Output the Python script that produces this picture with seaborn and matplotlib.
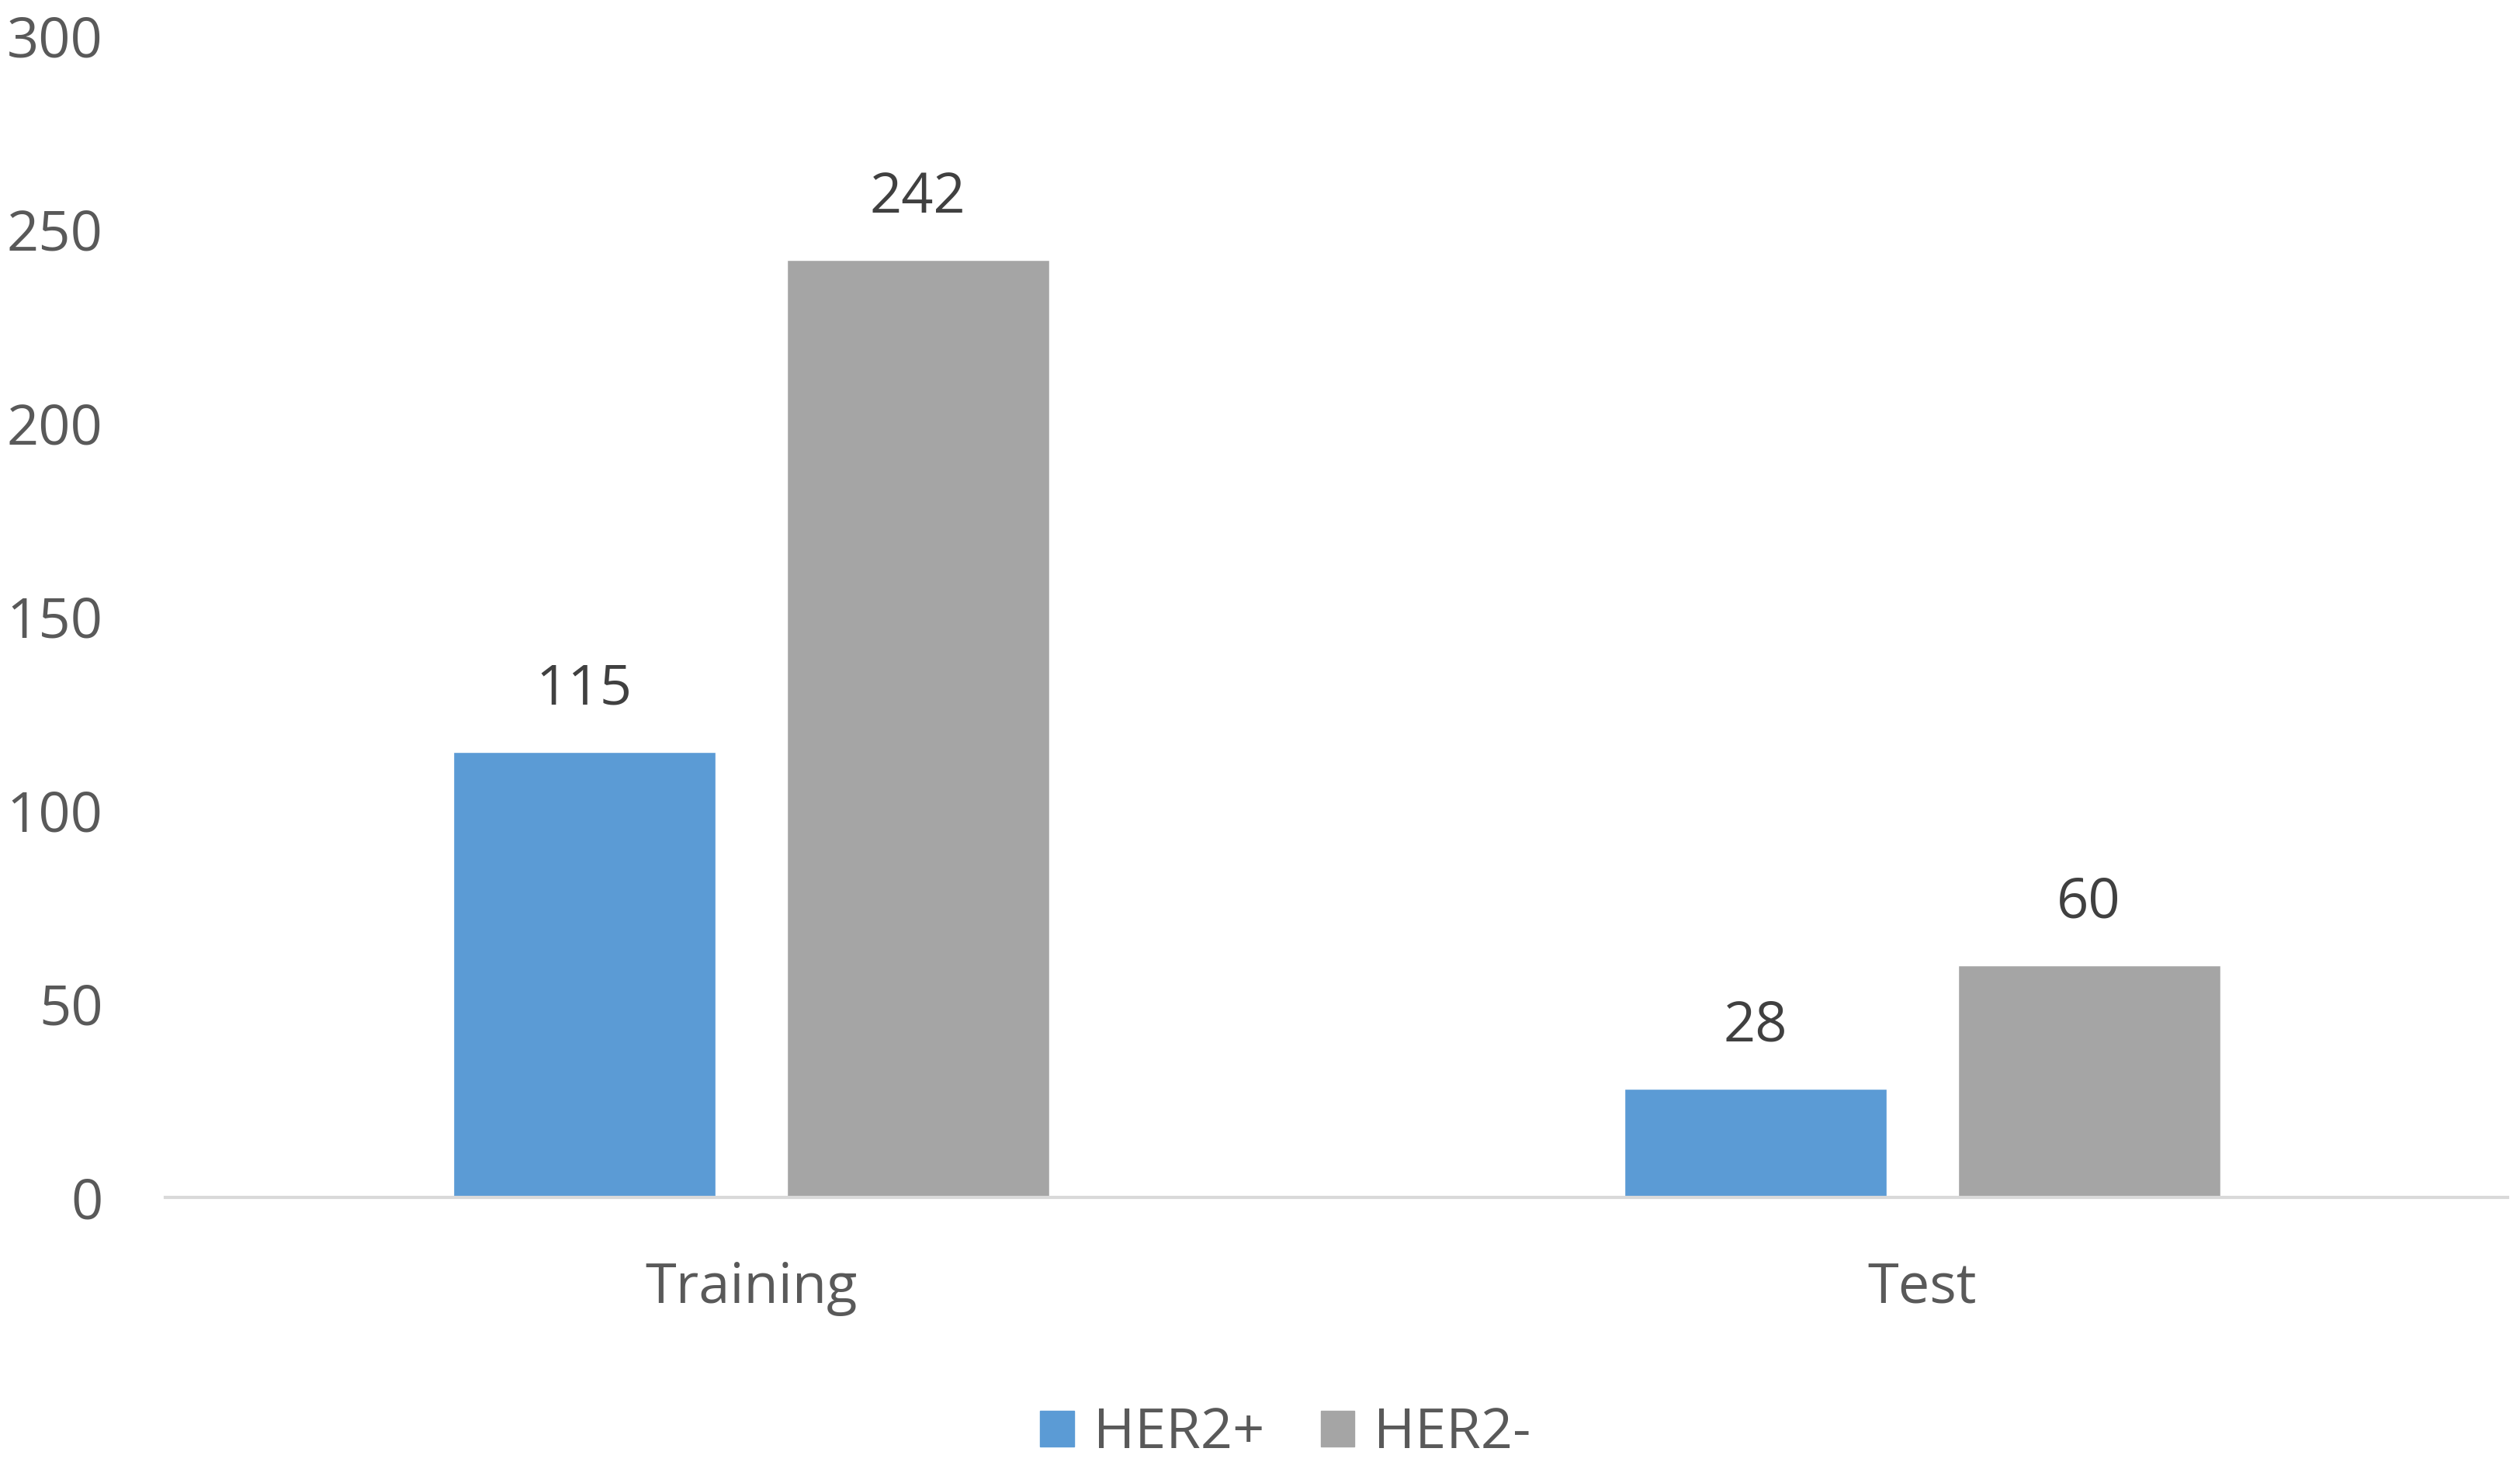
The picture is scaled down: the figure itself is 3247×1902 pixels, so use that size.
import pandas as pd
import matplotlib.pyplot as plt
import seaborn as sns

# data
groups = ['Training', 'Test']
series = ['HER2+', 'HER2-']
her2_pos = [115, 28]
her2_neg = [242, 60]
colors = ['#5B9BD5', '#A5A5A5']

df = pd.DataFrame({
    'Group': groups * 2,
    'Status': [series[0]] * 2 + [series[1]] * 2,
    'Count': her2_pos + her2_neg,
})

sns.set_style('white')
plt.rcParams['font.family'] = ['Open Sans', 'DejaVu Sans']

fig = plt.figure(figsize=(32.48, 19.02), dpi=100)
ax = fig.add_axes([0.0656, 0.1888, 0.9292, 0.787])

sns.barplot(data=df, x='Group', y='Count', hue='Status', order=groups,
            hue_order=series, palette=colors, width=0.57, gap=0.214,
            saturation=1, legend=False, ax=ax)

# value labels above bars
for cont in ax.containers:
    ax.bar_label(cont, padding=32, fontsize=52, color='#404040')

ax.set_xlim(-0.5, 1.5)
ax.set_ylim(0, 300)
ax.set_yticks(range(0, 301, 50))
ax.set_xlabel('')
ax.set_ylabel('')
ax.tick_params(axis='y', length=0, pad=58, labelsize=52, labelcolor='#595959')
ax.tick_params(axis='x', length=0, pad=59, labelsize=52, labelcolor='#595959')

for s in ['top', 'right', 'left']:
    ax.spines[s].set_visible(False)
ax.spines['bottom'].set_color('#D9D9D9')
ax.spines['bottom'].set_linewidth(3)

handles = [plt.Rectangle((0, 0), 1, 1, color=c) for c in colors]
fig.legend(handles, series, loc='center', bbox_to_anchor=(0.51, 0.0286),
           ncol=2, frameon=False, fontsize=52, labelcolor='#595959',
           handlelength=0.6, handleheight=0.6, handletextpad=0.35,
           columnspacing=1.0)

fig.savefig('out.png', dpi=100)
